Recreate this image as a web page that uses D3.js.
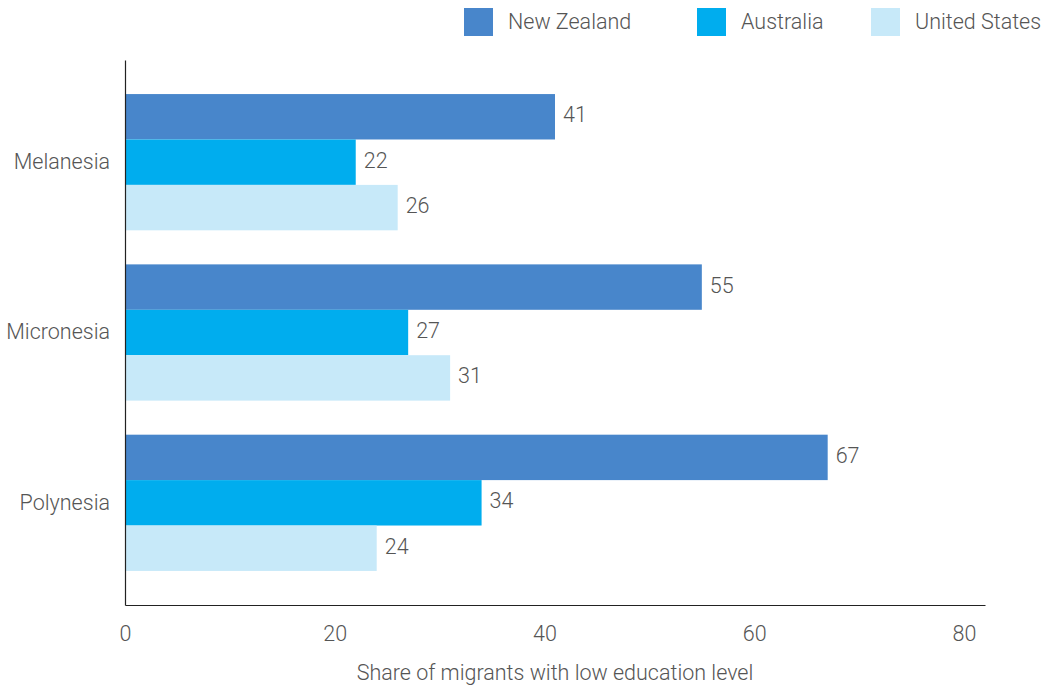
<!DOCTYPE html>
<html>
<head>
<meta charset="utf-8">
<script src="https://cdn.jsdelivr.net/npm/d3@7"></script>
<style>
  body { margin: 0; background: #fff; }
  text { font-family: Roboto, "Liberation Sans", sans-serif; font-weight: 300; fill: #555; }
</style>
</head>
<body>
<svg width="1050" height="686"></svg>
<script>
var regions = ["Melanesia", "Micronesia", "Polynesia"];
var countries = ["New Zealand", "Australia", "United States"];
var newZealand = [41, 55, 67];
var australia = [22, 27, 34];
var unitedStates = [26, 31, 24];
var xTicks = [0, 20, 40, 60, 80];
var colors = ["#4886cb", "#00adee", "#c7e9f9"];

var svg = d3.select("svg");
var fs = "21.5px";

var rows = regions.map(function(r, i) {
  return { region: r, values: [newZealand[i], australia[i], unitedStates[i]] };
});

var x = d3.scaleLinear().domain([0, 82]).range([125, 985]);
var y0 = d3.scaleBand().domain(regions).range([60, 605]).paddingInner(0.2).paddingOuter(0.2);
var y1 = d3.scaleBand().domain(countries).range([0, y0.bandwidth()]);

var groups = svg.append("g").selectAll("g")
  .data(rows)
  .enter().append("g")
  .attr("transform", function(d) { return "translate(0," + y0(d.region) + ")"; });

groups.selectAll("rect")
  .data(function(d) { return d.values.map(function(v, j) { return { c: countries[j], v: v, j: j }; }); })
  .enter().append("rect")
  .attr("x", x(0))
  .attr("y", function(d) { return y1(d.c); })
  .attr("width", function(d) { return x(d.v) - x(0); })
  .attr("height", y1.bandwidth())
  .attr("fill", function(d) { return colors[d.j]; });

groups.selectAll("text.val")
  .data(function(d) { return d.values.map(function(v, j) { return { c: countries[j], v: v }; }); })
  .enter().append("text")
  .attr("class", "val")
  .attr("x", function(d) { return x(d.v) + 8; })
  .attr("y", function(d) { return y1(d.c) + y1.bandwidth() / 2 - 2; })
  .attr("dy", "0.35em")
  .style("font-size", fs)
  .text(function(d) { return d.v; });

// axes
var xAxis = svg.append("g").attr("transform", "translate(0,605)")
  .call(d3.axisBottom(x).tickValues(xTicks).tickSize(0).tickPadding(21));
xAxis.select(".domain").attr("stroke", "#222").attr("stroke-width", 1.2);
xAxis.selectAll("text").style("font-size", fs).attr("fill", "#555");

var yAxis = svg.append("g").attr("transform", "translate(125,0)")
  .call(d3.axisLeft(y0).tickSize(0).tickPadding(15));
yAxis.select(".domain").attr("stroke", "#222").attr("stroke-width", 1.2);
yAxis.selectAll("text").style("font-size", fs).attr("fill", "#555");

svg.append("text")
  .attr("x", 555)
  .attr("y", 680)
  .attr("text-anchor", "middle")
  .style("font-size", fs)
  .text("Share of migrants with low education level");

// legend
var legendX = [464, 697, 871];
var legend = svg.append("g").selectAll("g")
  .data(countries)
  .enter().append("g")
  .attr("transform", function(d, i) { return "translate(" + legendX[i] + ",8)"; });
legend.append("rect")
  .attr("width", 29).attr("height", 28)
  .attr("fill", function(d, i) { return colors[i]; });
legend.append("text")
  .attr("x", 44).attr("y", 13).attr("dy", "0.35em")
  .style("font-size", fs)
  .text(function(d) { return d; });
</script>
</body>
</html>
